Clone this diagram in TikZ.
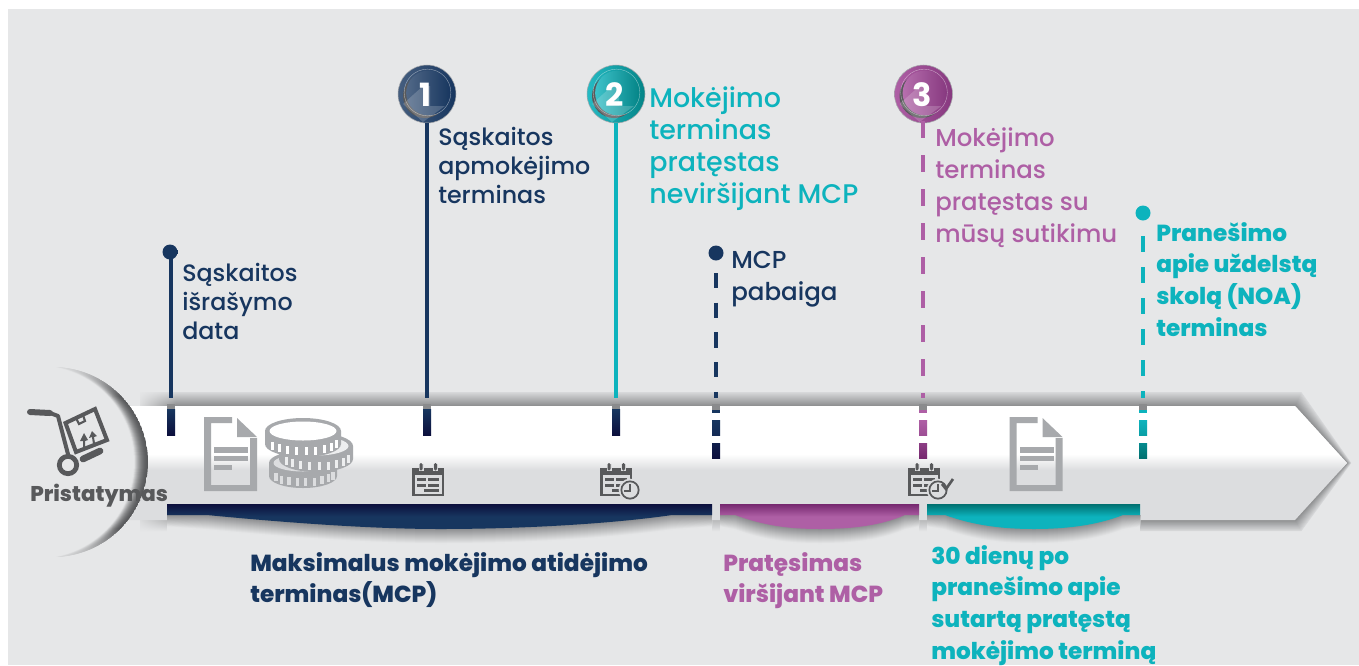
\documentclass[tikz,border=0pt]{standalone}
\usepackage{fontspec}
\setmainfont{Poppins}
\newfontfamily\medfont{Poppins Medium}
\newfontfamily\xbfont{Poppins ExtraBold}
\usetikzlibrary{calc,fadings}
\definecolor{bggray}{HTML}{E6E7E8}
\definecolor{bandgray}{HTML}{DCDDDF}
\definecolor{navy}{HTML}{17365F}
\definecolor{navydk}{HTML}{0C0F3D}
\definecolor{plum}{HTML}{AE5FA5}
\definecolor{plumdk}{HTML}{76286F}
\definecolor{teal2}{HTML}{0DB3BD}
\definecolor{tealdk}{HTML}{007070}
\definecolor{icondk}{HTML}{58595B}
\definecolor{iconlt}{HTML}{A7A9AC}
\definecolor{shadow}{HTML}{8A8B8D}
\tikzset{
  x=0.75pt,y=-0.75pt,
  lbl/.style={anchor=north west,inner sep=0pt,align=left,font=\medfont\fontsize{17.8}{21.7}\selectfont},
  lblmid/.style={lbl,font=\medfont\fontsize{18.4}{24}\selectfont},
  lblbig/.style={lbl,font=\medfont\fontsize{20.2}{24}\selectfont},
  lblplum/.style={lbl,font=\medfont\fontsize{18.3}{24}\selectfont},
  bold/.style={lbl,font=\xbfont\fontsize{17.4}{23.8}\selectfont},
  dot/.style={circle,inner sep=0pt,minimum size=11.25pt},
  stem/.style={line width=2.3pt},
  numb/.style={text=white,font=\fontsize{24}{24}\selectfont\bfseries,inner sep=0pt},
}
\newcommand{\solidtick}[3]{%
  \fill[shadow] (#1-4,404) rectangle (#1+4,409);
  \shade[top color=#2,bottom color=#3] (#1-4,409) rectangle (#1+4,435);}
\newcommand{\dashtick}[3]{%
  \fill[shadow] (#1-4,404) rectangle (#1+4,410);
  \fill[#2] (#1-4,410) rectangle (#1+4,412.5);
  \shade[top color=#2,bottom color=#2!70!#3] (#1-4,420) rectangle (#1+4,435);
  \shade[top color=#2!40!#3,bottom color=#3] (#1-4,443) rectangle (#1+4,458);}
\newcommand{\docicon}[2]{%
  \begin{scope}[shift={(#1,#2)}]
    \fill[iconlt,even odd rule] (0,0) -- (28,0) -- (28,6) -- (7,6) -- (7,68) -- (46,68) -- (46,21) -- (53,21) -- (53,74) -- (0,74) -- cycle;
    \fill[iconlt] (33,1) -- (53,20) -- (33,20) -- cycle;
    \fill[iconlt] (10,30) rectangle (44,36);
    \fill[iconlt] (10,39) rectangle (44,44);
    \fill[iconlt] (10,48) rectangle (28,53);
  \end{scope}}
\newcommand{\calicon}[2]{%
  \begin{scope}[shift={(#1,#2)}]
    \fill[icondk] (0,5) rectangle (32,33);
    \fill[bandgray] (2.5,12) rectangle (29.5,30.5);
    \fill[bandgray] (6.5,0.5) rectangle (11.5,8);
    \fill[bandgray] (21,0.5) rectangle (26,8);
    \fill[icondk,rounded corners=1pt] (7.5,0) rectangle (10.5,7.5);
    \fill[icondk,rounded corners=1pt] (22,0) rectangle (25,7.5);
    \fill[icondk] (5,15) rectangle (14,18);
    \fill[icondk] (5,20.5) rectangle (14,23.5);
    \fill[icondk] (12,26) rectangle (27,28.5);
    \fill[icondk] (16,15) rectangle (27,18);
    \fill[icondk] (16,20.5) rectangle (27,23.5);
  \end{scope}}
\newcommand{\clockicon}[2]{%
  \fill[bandgray] (#1,#2) circle (8.5pt);
  \draw[icondk,line width=1.3pt] (#1,#2) circle (6.5pt);
  \draw[icondk,line width=0.9pt] (#1,#2-6) -- (#1,#2+1) -- (#1-6,#2+1);}
% cx, cy, rx, ry, height, notch colour
\newcommand{\coin}[6]{%
  \fill[iconlt] (#1-#3,#2) -- (#1-#3,#2+#5) arc[start angle=180,end angle=360,x radius=#3,y radius=-#4] -- (#1+#3,#2) arc[start angle=0,end angle=180,x radius=#3,y radius=-#4] -- cycle;
  \fill[#6] (#1,#2) ellipse[x radius=#3-4.5,y radius=#4-3.5];
  \foreach \a in {25,40,...,155}{
    \fill[#6] ({#1+(#3-1)*cos(\a)-1.6},{#2+#4*sin(\a)+3.5}) rectangle ++(3.2,#5-5);
  }}
\begin{document}
\begin{tikzpicture}
\useasboundingbox (0,0) rectangle (1359,665);
\fill[white] (0,0) rectangle (1359,665);
\fill[bggray] (8,9) rectangle (1359,665);

% arrow band shadows
\foreach \i in {14,13,...,1}{
  \pgfmathsetmacro{\m}{100-6*\i}
  \fill[shadow!\m!bggray] (140,406-\i) -- (1295+0.45*\i,406-\i) -- (1347+\i*0.3,463) -- (1295+0.45*\i,520+\i*0.8) -- (1140,520+\i*0.8) -- (1140,520) -- (140,520) -- cycle;
}
\foreach \i in {12,11,...,1}{
  \pgfmathsetmacro{\m}{55-4.5*\i}
  \fill[shadow!\m!bggray] (140,520) rectangle (167,520+\i);
  \fill[shadow!\m!bggray] (712,520) rectangle (720,520+\i);
  \fill[shadow!\m!bggray] (919,520) rectangle (927,520+\i);
}
% fade the left ends of the band's shadows
\fill[bggray,path fading=east] (136,390) rectangle (176,406);
\fill[bggray,path fading=east] (132,520) rectangle (167,534);
% band
\fill[bandgray] (125,406) -- (1295,406) -- (1347,463) -- (1295,520) -- (125,520) -- cycle;
\begin{scope}
  \clip (125,406) -- (1295,406) -- (1347,463) -- (1295,520) -- (125,520) -- cycle;
  \fill[white] (125,406) rectangle (1359,454);
  \shade[top color=white,bottom color=bandgray] (125,454) rectangle (1359,470);
\end{scope}

% shadows below coloured segments (drawn from far to near)
\fill[bggray] (167,515) rectangle (712,522);
\fill[bggray] (720,515) rectangle (919,522);
\fill[bggray] (927,515) rectangle (1140,522);
\foreach \i in {15,14,...,0}{
  \pgfmathsetmacro{\m}{100-6.6*\i}
  \fill[shadow!\m!bggray] (167,515) -- (712,515) -- (712,515+\i*0.8) -- (672,515+\i) .. controls (610,524+\i) and (520,529+\i) .. (440,529+\i) .. controls (380,529+\i) and (300,524+\i) .. (207,515+\i) -- (167,515+\i*0.8) -- cycle;
  \fill[shadow!\m!bggray] (720,515) -- (919,515) -- (919,515+\i*0.8) -- (905,515+\i) .. controls (880,526+\i) and (850,529+\i) .. (820,529+\i) .. controls (790,529+\i) and (765,526+\i) .. (735,515+\i) -- (720,515+\i*0.8) -- cycle;
  \fill[shadow!\m!bggray] (927,515) -- (1140,515) -- (1140,515+\i*0.8) -- (1123,515+\i) .. controls (1095,526+\i) and (1063,529+\i) .. (1034,529+\i) .. controls (1005,529+\i) and (975,526+\i) .. (945,515+\i) -- (927,515+\i*0.8) -- cycle;
}
\fill[bandgray] (712,515) rectangle (720,520);
\fill[bandgray] (919,515) rectangle (927,520);
% coloured segments
\shade[top color=navydk,bottom color=navy,middle color=navy] (167,504) -- (712,504) -- (712,515) -- (672,515) .. controls (610,524) and (520,529) .. (440,529) .. controls (380,529) and (300,524) .. (207,515) -- (167,515) -- cycle;
\shade[top color=plumdk,bottom color=plum,middle color=plum] (720,504) -- (919,504) -- (919,515) -- (905,515) .. controls (880,526) and (850,529) .. (820,529) .. controls (790,529) and (765,526) .. (735,515) -- (720,515) -- cycle;
\shade[top color=tealdk,bottom color=teal2,middle color=teal2] (927,504) -- (1140,504) -- (1140,515) -- (1123,515) .. controls (1095,526) and (1063,529) .. (1034,529) .. controls (1005,529) and (975,526) .. (945,515) -- (927,515) -- cycle;

% left disc with crescent shadow
\begin{scope}
  \clip (8,9) rectangle (1359,665);
  \fill[bggray] (53,462) circle (71.25pt);
  \begin{scope}
    \clip (53,462) circle (71.25pt);
    \clip (53,360) rectangle (152,565);
    \foreach \d in {0,1,...,15}{
      \pgfmathsetmacro{\a}{95-\d}
      \pgfmathsetmacro{\c}{(95*95-\a*\a)/(2*\a)}
      \pgfmathsetmacro{\r}{(\a+\c)*0.75}
      \pgfmathsetmacro{\m}{max(0,100-\d*\d*0.45-\d*1.5)}
      \fill[icondk!\m!bggray] (53-\c,462) circle (\r pt);
    }
  \end{scope}
  \fill[bggray] (48,364) rectangle (56,560);
  \fill[bggray,path fading=south] (48,364) rectangle (128,396);
  \fill[bggray,path fading=north] (48,528) rectangle (128,560);
\end{scope}

% dots
\node[dot,fill=navy] (d1) at (170,252) {};
\node[dot,fill=navy] (d2) at (716,253) {};
\node[dot,fill=teal2] (d3) at (1143,213) {};

% number badges
\newcommand{\badge}[6]{% name,x,num,light,dark,gloss
  \node[circle,inner sep=0pt,minimum size=43.5pt,shade,shading angle=70,left color=#4,right color=#5,draw=iconlt,line width=0.4pt] (#1) at (#2,94) {};
  \fill[icondk] (#2-2,96) circle (16.5pt);
  \shade[left color=#6,right color=#5] (#2+1.5,93) circle (16.8pt);
  \fill[white,opacity=0.18] (#2-4,86) -- (#2-24,104) -- (#2-4,122) -- (#2+18,106) -- (#2+3,106) -- (#2+3,86)-- cycle;
  \draw[white,opacity=0.5,line width=0.3pt] (#2+0.5,92.5) circle (17.5pt);
  \node[numb] at (#2-1,95) {#3};
}
\badge{b1}{427}{1}{navy!80!white}{navy}{navy!75!white}
\badge{b2}{616}{2}{teal2!90!white}{tealdk!70!teal2}{teal2!80!white}
\badge{b3}{923.5}{3}{plum}{plumdk!70!plum}{plum!90!white}

\coordinate (t1) at (171,398);
\coordinate (t2) at (427,398);
\coordinate (t3) at (616,398);
\coordinate (t4) at (716,398);
\coordinate (t5) at (923,398);
\coordinate (t6) at (1143,398);
\coordinate (s4) at (716,273);
\coordinate (s5) at (923,121);
\coordinate (s6) at (1143,236);
\draw[stem,navy] (d1) -- (t1 |- d1) -- (t1);
\draw[stem,navy] (b1) -- (t2);
\draw[stem,teal2] (b2) -- (t3);
\draw[stem,navy,dash pattern=on 11.3pt off 11pt] (s4) -- (t4);
\draw[stem,plum,dash pattern=on 12.4pt off 13.1pt] (s5) -- (t5);
\draw[stem,teal2,dash pattern=on 11.8pt off 11.5pt] (s6) -- (t6);

% ticks
\solidtick{171}{navy}{navydk}
\solidtick{427}{navy}{navydk}
\solidtick{616}{navy}{navydk}
\dashtick{716}{navy}{navydk}
\dashtick{923}{plum}{plumdk}
\dashtick{1143}{teal2}{tealdk}

% icons
\docicon{204}{417}
\docicon{1009.5}{417}
\coin{303}{463}{34}{12}{13}{bandgray}
\coin{316}{446}{37}{13}{13}{bandgray!50!white}
\coin{303}{431}{38}{13}{13}{white}
\calicon{412}{463}
\calicon{600}{463}
\clockicon{630}{490}
\calicon{908}{463}
\clockicon{938}{490}
\draw[icondk,line width=2pt] (942,484) -- (946,489) -- (953,479);

% trolley
\begin{scope}
  \draw[icondk,line width=4.5pt,line cap=round] (30,412) -- (50,413);
  \draw[icondk,line width=3pt,line join=round] (50,413) -- (58,416) -- (69,458);
  \draw[icondk,line width=3pt] (65.5,423) -- (95,409) -- (107,440) -- (76,452) -- cycle;
  \draw[icondk,line width=1.6pt] (76,418) -- (79,424) -- (85,421) -- (83,415);
  \draw[icondk,line width=3.6pt] (68,465) circle (6.5pt);
  \draw[icondk,line width=5pt,line cap=round] (83,459) -- (100,451);
  \fill[icondk] (80,441) -- (83,441) -- (83,447) -- (85,447) -- (85,441) -- (88,440) -- (84,433) -- cycle;
  \fill[icondk] (89,438) -- (92,437) -- (93,444) -- (95,443) -- (94,437) -- (97,436) -- (92,431) -- cycle;
\end{scope}

% labels
\node[anchor=base west,inner sep=0pt,text=icondk,font=\xbfont\fontsize{16}{16}\selectfont] (p) at (30,501) {Pristatymas};
\node[lbl,text=navy] (l1) at (182,263) {Sąskaitos\\išrašymo\\data};
\node[lbl,text=navy] (l2) at (438,127) {Sąskaitos\\apmokėjimo\\terminas};
\node[lblbig,text=teal2] (l3) at (649,86) {Mokėjimo\\terminas\\pratęstas\\neviršijant MCP};
\node[lblmid,text=navy] (l4) at (731,251) {MCP\\pabaiga};
\node[lblplum,text=plum] (l5) at (935,127) {Mokėjimo\\terminas\\pratęstas su\\mūsų sutikimu};
\node[bold,text=teal2] (l6) at (1156,222) {Pranešimo\\apie uždelstą\\skolą (NOA)\\terminas};
\node[bold,text=navy] (l7) at (250,552) {Maksimalus mokėjimo atidėjimo\\terminas(MCP)};
\node[bold,text=plum] (l8) at (723,552) {Pratęsimas\\viršijant MCP};
\node[bold,text=teal2] (l9) at (931,545) {30 dienų po\\pranešimo apie\\sutartą pratęstą\\mokėjimo terminą};
\end{tikzpicture}
\end{document}
